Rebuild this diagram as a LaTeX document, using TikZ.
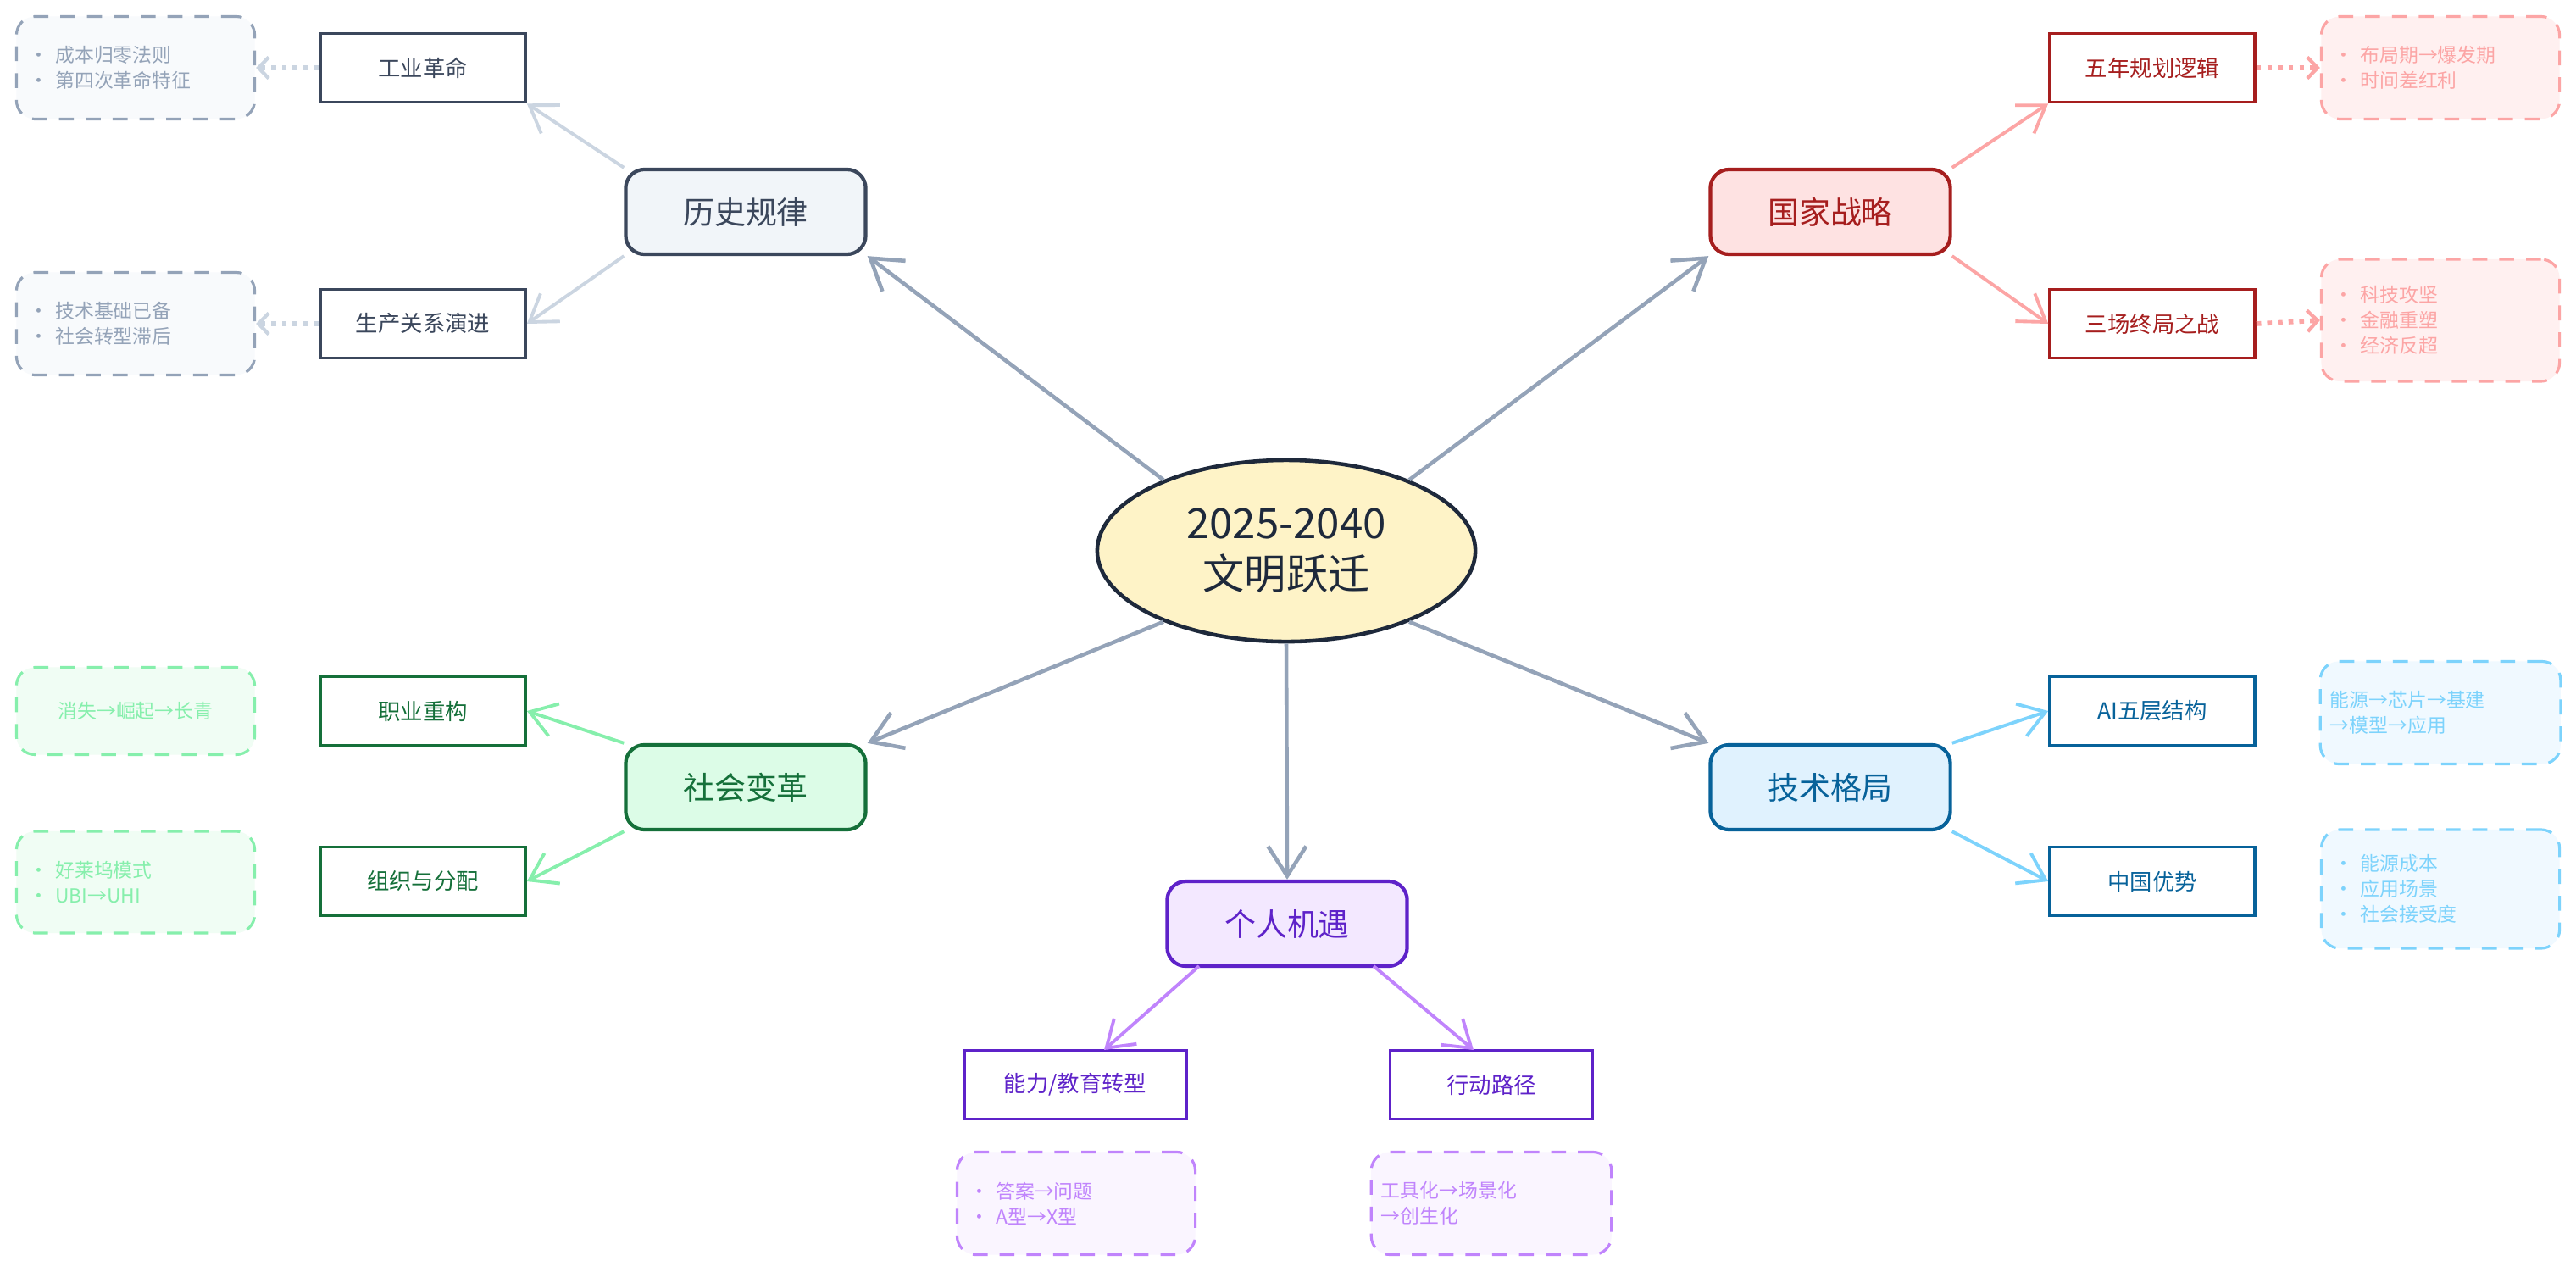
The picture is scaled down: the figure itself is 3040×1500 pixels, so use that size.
\documentclass[tikz,border=0pt]{standalone}
\usepackage{fontspec}
\setmainfont{Noto Sans CJK SC}
\usetikzlibrary{shapes.geometric,arrows.meta}
\definecolor{slS}{HTML}{3B475C}\definecolor{slF}{HTML}{F1F5F9}\definecolor{slA}{HTML}{CBD5E1}\definecolor{slN}{HTML}{F8FAFC}\definecolor{slT}{HTML}{94A3B8}
\definecolor{rdS}{HTML}{A61E1E}\definecolor{rdF}{HTML}{FEE2E2}\definecolor{rdA}{HTML}{FCA5A5}\definecolor{rdN}{HTML}{FFF0F0}
\definecolor{grS}{HTML}{15703A}\definecolor{grF}{HTML}{DCFCE7}\definecolor{grA}{HTML}{86EFAC}\definecolor{grN}{HTML}{F0FDF4}
\definecolor{blS}{HTML}{07629A}\definecolor{blF}{HTML}{E0F2FE}\definecolor{blA}{HTML}{7DD3FC}\definecolor{blN}{HTML}{F0F9FF}
\definecolor{puS}{HTML}{5E22C9}\definecolor{puF}{HTML}{F3E8FF}\definecolor{puA}{HTML}{C084FC}\definecolor{puN}{HTML}{FAF5FF}
\definecolor{ctF}{HTML}{FEF3C7}\definecolor{ctS}{HTML}{1E293B}\definecolor{gA}{HTML}{94A3B8}
\tikzset{
 main/.style={draw=#1S,fill=#1F,text=#1S,line width=1.2pt,rounded corners=0.22cm,minimum width=2.83cm,minimum height=1cm,font=\fontsize{10.5}{12}\selectfont},
 sub/.style={draw=#1S,fill=white,text=#1S,line width=1pt,minimum width=2.42cm,minimum height=0.81cm,font=\fontsize{7.5}{9}\selectfont},
 note/.style={draw=#1A,fill=#1N,text=#1A,line width=0.9pt,dash pattern=on 5pt off 4pt,rounded corners=0.22cm,minimum width=2.81cm,align=left,font=\fontsize{6.5}{8.5}\selectfont},
 slnote/.style={draw=slT,fill=slN,text=slT,line width=0.9pt,dash pattern=on 5pt off 4pt,rounded corners=0.22cm,minimum width=2.81cm,minimum height=1.21cm,align=left,font=\fontsize{6.5}{8.5}\selectfont},
 carr/.style={draw=gA,line width=1.3pt,-{Straight Barb[length=0.35cm,width=0.45cm,line width=1.3pt]}},
 sarr/.style={draw=#1,line width=1.1pt,-{Straight Barb[length=0.3cm,width=0.4cm,line width=1.1pt]}},
 darr/.style={draw=#1,line width=1.6pt,dotted,-{Straight Barb[length=0.12cm,width=0.25cm,line width=1.2pt]}},
}
\begin{document}
\begin{tikzpicture}[x=0.01cm,y=-0.01cm]
\fill[white] (0,0) rectangle (3040,1500);
\node[ellipse,draw=ctS,fill=ctF,line width=1.3pt,minimum width=4.46cm,minimum height=2.14cm,align=center,text=ctS,font=\fontsize{14}{17}\selectfont] (c) at (1518,650) {2025-2040\\文明跃迁};
% main
\node[main=sl] (h) at (880,250) {历史规律};
\node[main=rd] (g) at (2160,250) {国家战略};
\node[main=bl] (t) at (2160,929) {技术格局};
\node[main=gr] (s) at (880,929) {社会变革};
\node[main=pu] (p) at (1519,1090) {个人机遇};
% subs
\node[sub=sl] (h1) at (499,80) {工业革命};
\node[sub=sl] (h2) at (499,382) {生产关系演进};
\node[sub=rd] (g1) at (2540,80) {五年规划逻辑};
\node[sub=rd] (g2) at (2540,382) {三场终局之战};
\node[sub=bl] (t1) at (2540,839) {AI五层结构};
\node[sub=bl] (t2) at (2540,1040) {中国优势};
\node[sub=gr] (s1) at (499,839) {职业重构};
\node[sub=gr] (s2) at (499,1040) {组织与分配};
\node[sub=pu,minimum width=2.62cm] (p1) at (1269,1280) {能力/教育转型};
\node[sub=pu,minimum width=2.39cm] (p2) at (1760,1280) {行动路径};
\coordinate (p1t) at (1303,1239);
\coordinate (p2t) at (1739,1239);
\coordinate (ps1) at (1415,1140);
\coordinate (ps2) at (1621,1140);
% notes
\node[slnote,text width=2.5cm] (hn1) at (160,80) {• 成本归零法则\\• 第四次革命特征};
\node[slnote,text width=2.5cm] (hn2) at (160,382) {• 技术基础已备\\• 社会转型滞后};
\node[note=rd,text width=2.5cm,minimum height=1.21cm] (gn1) at (2880,80) {• 布局期→爆发期\\• 时间差红利};
\node[note=rd,text width=2.5cm,minimum height=1.44cm] (gn2) at (2880,378) {• 科技攻坚\\• 金融重塑\\• 经济反超};
\node[note=bl,text width=2.6cm,minimum height=1.21cm] (tn1) at (2880,841) {能源→芯片→基建\\→模型→应用};
\node[note=bl,text width=2.5cm,minimum height=1.40cm] (tn2) at (2880,1049) {• 能源成本\\• 应用场景\\• 社会接受度};
\node[note=gr,align=center,minimum height=1.03cm] (sn1) at (160,839) {消失→崛起→长青};
\node[note=gr,text width=2.5cm,minimum height=1.2cm] (sn2) at (160,1041) {• 好莱坞模式\\• UBI→UHI};
\node[note=pu,text width=2.5cm,minimum height=1.21cm] (pn1) at (1270,1420) {• 答案→问题\\• A型→X型};
\node[note=pu,text width=2.6cm,minimum height=1.21cm] (pn2) at (1760,1420) {工具化→场景化\\→创生化};
% connectors
\draw[carr] (c.150) -- (h.south east);
\draw[carr] (c.30) -- (g.south west);
\draw[carr] (c.-30) -- (t.north west);
\draw[carr] (c.210) -- (s.north east);
\draw[carr] (c.south) -- (p.north);
\draw[sarr=slA] (h.north west) -- (h1.south east);
\draw[sarr=slA] (h.south west) -- (h2.east);
\draw[sarr=rdA] (g.north east) -- (g1.south west);
\draw[sarr=rdA] (g.south east) -- (g2.west);
\draw[sarr=blA] (t.north east) -- (t1.west);
\draw[sarr=blA] (t.south east) -- (t2.west);
\draw[sarr=grA] (s.north west) -- (s1.east);
\draw[sarr=grA] (s.south west) -- (s2.east);
\draw[sarr=puA] (ps1) -- (p1t);
\draw[sarr=puA] (ps2) -- (p2t);
\draw[darr=slA] (h1.west) -- (hn1.east);
\draw[darr=slA] (h2.west) -- (hn2.east);
\draw[darr=rdA] (g1.east) -- (gn1.west);
\draw[darr=rdA] (g2.east) -- (gn2.west);
\end{tikzpicture}
\end{document}
